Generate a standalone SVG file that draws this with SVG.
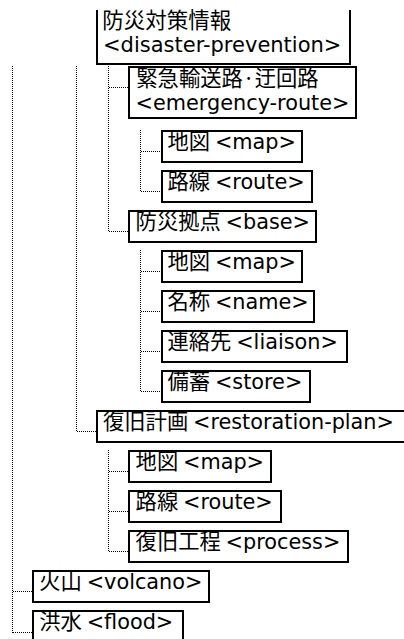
<svg xmlns="http://www.w3.org/2000/svg" width="404" height="639" viewBox="0 0 404 639">
<style>
.box{fill:#fff;stroke:#000;stroke-width:2}
.t{font-family:'DejaVu Sans','Noto Sans CJK JP',sans-serif;font-size:20.8px;fill:#000}
.j{font-family:'Noto Sans CJK JP','DejaVu Sans',sans-serif;font-size:21.3px}
.c{fill:none;stroke:#000;stroke-width:1;stroke-dasharray:1 1}
</style>
<rect width="404" height="639" fill="#fff"/>
<g id="connectors">
<path class="c" d="M12.5,66V633M76.5,66V432M108.5,66V232M108.5,450V552M140.5,130V192M140.5,250V392"/>
<path class="c" d="M109,87.5H128M109,231.5H128M141,151.5H161M141,191.5H161M141,271.5H161M141,311.5H161M141,351.5H161M141,391.5H161M77,431.5H96M109,471.5H128M109,511.5H128M109,551.5H128M13,591.5H32M13,632.5H32"/>
</g>
<g id="disaster-prevention">
<path class="box" d="M97,10V64H350V10"/>
<text class="t" x="102.3" y="27.5"><tspan class="j" style="font-size:21.5px">防災対策情報</tspan></text>
<text class="t" x="103" y="52" style="font-size:21px">&lt;disaster-prevention&gt;</text>
</g>
<g id="emergency-route">
<rect class="box" x="129" y="67" width="227" height="51"/>
<text class="t" x="136.3" y="86.3"><tspan class="j" style="font-size:21.3px">緊急輸送路·迂回路</tspan></text>
<text class="t" x="135.6" y="109.6">&lt;emergency-route&gt;</text>
</g>
<g id="er-map">
<rect class="box" x="162" y="131" width="140" height="31"/>
<text class="t" x="167.5" y="149"><tspan class="j">地図 </tspan>&lt;map&gt;</text>
</g>
<g id="er-route">
<rect class="box" x="162" y="171" width="150" height="31"/>
<text class="t" x="167.5" y="189"><tspan class="j">路線 </tspan>&lt;route&gt;</text>
</g>
<g id="base">
<rect class="box" x="129" y="211" width="187" height="31"/>
<text class="t" x="135.6" y="229"><tspan class="j">防災拠点 </tspan>&lt;base&gt;</text>
</g>
<g id="base-map">
<rect class="box" x="162" y="251" width="140" height="31"/>
<text class="t" x="167.5" y="269"><tspan class="j">地図 </tspan>&lt;map&gt;</text>
</g>
<g id="base-name">
<rect class="box" x="162" y="291" width="152" height="31"/>
<text class="t" x="167.5" y="309"><tspan class="j">名称 </tspan>&lt;name&gt;</text>
</g>
<g id="base-liaison">
<rect class="box" x="162" y="331" width="185" height="31"/>
<text class="t" x="167.5" y="349"><tspan class="j">連絡先 </tspan>&lt;liaison&gt;</text>
</g>
<g id="base-store">
<rect class="box" x="162" y="371" width="148" height="31"/>
<text class="t" x="167.5" y="389"><tspan class="j">備蓄 </tspan>&lt;store&gt;</text>
</g>
<g id="restoration-plan">
<rect class="box" x="97" y="411" width="320" height="31"/>
<text class="t" x="103" y="429"><tspan class="j">復旧計画 </tspan>&lt;restoration-plan&gt;</text>
</g>
<g id="rp-map">
<rect class="box" x="129" y="451" width="142" height="31"/>
<text class="t" x="135.6" y="469"><tspan class="j">地図 </tspan>&lt;map&gt;</text>
</g>
<g id="rp-route">
<rect class="box" x="129" y="491" width="152" height="31"/>
<text class="t" x="135.6" y="509"><tspan class="j">路線 </tspan>&lt;route&gt;</text>
</g>
<g id="rp-process">
<rect class="box" x="129" y="531" width="219" height="31"/>
<text class="t" x="135.6" y="549"><tspan class="j">復旧工程 </tspan>&lt;process&gt;</text>
</g>
<g id="volcano">
<rect class="box" x="33" y="571" width="176" height="31"/>
<text class="t" x="39.3" y="589"><tspan class="j">火山 </tspan>&lt;volcano&gt;</text>
</g>
<g id="flood">
<rect class="box" x="33" y="611" width="150" height="31"/>
<text class="t" x="39.3" y="629"><tspan class="j">洪水 </tspan>&lt;flood&gt;</text>
</g>
</svg>
